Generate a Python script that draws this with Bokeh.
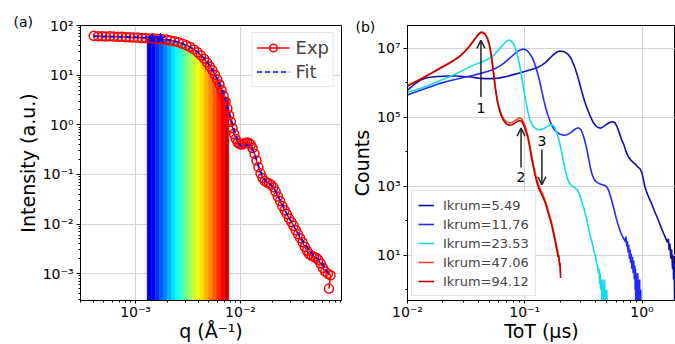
from bokeh.plotting import figure
from bokeh.layouts import row
from bokeh.models import (Range1d, LogTicker, FixedTicker, CustomJSTickFormatter,
                          Arrow, OpenHead, ColumnDataSource)
from bokeh.core.properties import value
from bokeh.embed import file_html
from bokeh.resources import INLINE

FONT = "DejaVu Sans"

# ---------------- Panel (a) data ----------------
q_exp = [4.0e-4, 4.4e-4, 4.8e-4, 5.2e-4, 5.7e-4, 6.2e-4, 6.8e-4, 7.4e-4, 8.1e-4, 8.8e-4,
         9.6e-4, 1.05e-3, 1.15e-3, 1.25e-3, 1.37e-3, 1.5e-3, 1.64e-3, 1.8e-3, 1.97e-3, 2.15e-3,
         2.35e-3, 2.57e-3, 2.8e-3, 3.05e-3, 3.32e-3, 3.6e-3, 3.9e-3, 4.2e-3, 4.5e-3, 4.8e-3,
         5.1e-3, 5.4e-3, 5.7e-3, 6.0e-3, 6.3e-3, 6.6e-3, 6.9e-3, 7.2e-3, 7.5e-3, 7.8e-3,
         8.1e-3, 8.4e-3, 8.7e-3, 9.0e-3, 9.4e-3, 9.8e-3, 1.02e-2, 1.06e-2, 1.1e-2, 1.15e-2,
         1.2e-2, 1.25e-2, 1.3e-2, 1.36e-2, 1.42e-2, 1.48e-2, 1.55e-2, 1.62e-2, 1.7e-2, 1.78e-2,
         1.87e-2, 1.96e-2, 2.06e-2, 2.16e-2, 2.27e-2, 2.38e-2, 2.5e-2, 2.63e-2, 2.76e-2, 2.9e-2,
         3.05e-2, 3.2e-2, 3.36e-2, 3.53e-2, 3.7e-2, 3.9e-2, 4.1e-2, 4.3e-2, 4.5e-2, 4.75e-2,
         5.0e-2, 5.25e-2, 5.5e-2, 5.8e-2, 6.1e-2, 6.4e-2, 6.8e-2, 7.2e-2, 6.95e-2]
I_exp = [62, 61, 61, 60, 61, 60, 59, 59, 58, 58,
         57, 57, 56, 56, 55, 55, 54, 53, 52, 50,
         48, 46, 43, 40, 37, 33, 29, 25, 21.5, 18,
         15, 12.5, 10.2, 8.2, 6.5, 5.0, 3.8, 2.9, 2.1, 1.55,
         1.15, 0.85, 0.65, 0.52, 0.44, 0.41, 0.40, 0.41, 0.43, 0.44,
         0.43, 0.40, 0.34, 0.26, 0.19, 0.14, 0.105, 0.085, 0.074, 0.069,
         0.066, 0.062, 0.055, 0.045, 0.036, 0.029, 0.023, 0.019, 0.016, 0.013,
         0.011, 0.0092, 0.0075, 0.0062, 0.0052, 0.0043, 0.0035, 0.0029, 0.0025, 0.0023,
         0.0022, 0.0021, 0.0019, 0.0016, 0.0013, 0.0011, 0.0010, 0.00093, 0.0005]

q_fit = [4.0e-4, 6.0e-4, 8.0e-4, 1.0e-3, 1.3e-3, 1.6e-3, 2.0e-3, 2.4e-3, 2.8e-3, 3.2e-3,
         3.6e-3, 4.0e-3, 4.5e-3, 5.0e-3, 5.5e-3, 6.0e-3, 6.5e-3, 7.0e-3, 7.5e-3, 8.0e-3,
         8.5e-3, 9.0e-3, 9.5e-3, 1.0e-2, 1.05e-2, 1.1e-2, 1.18e-2, 1.25e-2, 1.33e-2, 1.42e-2,
         1.52e-2, 1.62e-2, 1.75e-2, 1.9e-2, 2.05e-2, 2.2e-2, 2.4e-2, 2.6e-2, 2.85e-2, 3.1e-2,
         3.4e-2, 3.7e-2, 4.0e-2, 4.4e-2, 4.8e-2, 5.3e-2, 5.8e-2, 6.4e-2, 7.1e-2]
I_fit = [60, 59.5, 59, 58, 57, 55, 52, 48, 43, 38,
         33, 28, 22, 16.5, 12, 8.4, 5.7, 3.7, 2.4, 1.5,
         0.95, 0.62, 0.45, 0.38, 0.37, 0.38, 0.39, 0.36, 0.29, 0.2,
         0.13, 0.092, 0.072, 0.064, 0.055, 0.043, 0.03, 0.021, 0.014, 0.0105,
         0.0075, 0.0056, 0.0043, 0.0032, 0.0025, 0.0021, 0.0018, 0.0013, 0.0009]

q_star = [1.44e-3, 1.73e-3]
I_star = [55, 55]

q_dot = [1.6e-3, 2.1e-3, 2.68e-3, 3.3e-3, 3.87e-3, 4.6e-3, 5.36e-3, 6.0e-3, 6.45e-3, 7.2e-3]
I_dot = [50, 46, 40, 33, 27, 20, 14.7, 9.5, 5.8, 2.7]

band_edges = [1.29e-3, 1.41e-3, 1.54e-3, 1.69e-3, 1.85e-3, 2.02e-3, 2.21e-3, 2.41e-3, 2.64e-3,
              2.89e-3, 3.16e-3, 3.45e-3, 3.78e-3, 4.13e-3, 4.52e-3, 4.94e-3, 5.40e-3, 5.91e-3,
              6.46e-3, 7.07e-3, 7.74e-3]
band_top = [55, 54, 54, 53, 52, 50, 48, 46, 43, 40, 37, 33, 28, 23, 18.5, 14, 10.5, 7.5, 5.0, 3.4]
band_floor = 1e-5

# ---------------- Panel (b) data ----------------
labels_b = ["Ikrum=5.49", "Ikrum=11.76", "Ikrum=23.53", "Ikrum=47.06", "Ikrum=94.12"]

t_549 = [0.010, 0.0115, 0.013, 0.015, 0.018, 0.022, 0.026, 0.030, 0.035, 0.040, 0.046, 0.052,
         0.060, 0.070, 0.080, 0.090, 0.100, 0.110, 0.120, 0.130, 0.140, 0.150, 0.160, 0.170,
         0.180, 0.190, 0.200, 0.210, 0.220, 0.235, 0.250, 0.265, 0.280, 0.295, 0.310, 0.325,
         0.340, 0.360, 0.380, 0.400, 0.420, 0.445, 0.470, 0.500, 0.530, 0.560, 0.585, 0.610,
         0.640, 0.670, 0.700, 0.730, 0.760, 0.800, 0.840, 0.880, 0.920, 0.960, 1.00, 1.03,
         1.06, 1.10, 1.15, 1.20, 1.27, 1.34, 1.40, 1.46, 1.52, 1.58, 1.64, 1.68, 1.70, 1.73,
         1.76, 1.79, 1.82, 1.84, 1.86, 1.88, 1.90, 1.92, 1.95, 2.0]
c_549 = [6.0e5, 9.0e5, 1.2e6, 1.4e6, 1.5e6, 1.55e6, 1.55e6, 1.5e6, 1.45e6, 1.35e6, 1.3e6, 1.3e6,
         1.35e6, 1.5e6, 1.7e6, 1.9e6, 2.1e6, 2.3e6, 2.5e6, 2.8e6, 3.2e6, 3.8e6, 4.7e6, 5.8e6,
         6.9e6, 7.8e6, 8.2e6, 8.1e6, 7.6e6, 6.5e6, 4.8e6, 3.0e6, 1.7e6, 9.0e5, 4.8e5, 2.8e5,
         1.8e5, 1.1e5, 7.5e4, 5.8e4, 5.0e4, 4.8e4, 5.3e4, 6.2e4, 7.0e4, 7.4e4, 7.0e4, 5.5e4,
         3.5e4, 2.2e4, 1.6e4, 1.0e4, 7.4e3, 5.8e3, 4.9e3, 4.3e3, 3.6e3, 3.2e3, 2.4e3, 1.5e3,
         9.5e2, 6.5e2, 4.5e2, 3.3e2, 2.0e2, 1.3e2, 90, 62, 45, 33, 24, 30, 14, 22,
         8, 15, 4, 10, 2, 6, 0.3, 3, 0.3, 2]

t_1176 = [0.010, 0.012, 0.014, 0.016, 0.019, 0.022, 0.026, 0.030, 0.036, 0.042, 0.048, 0.054,
          0.060, 0.066, 0.072, 0.078, 0.084, 0.090, 0.096, 0.100, 0.105, 0.110, 0.116, 0.122,
          0.128, 0.134, 0.140, 0.146, 0.152, 0.158, 0.166, 0.175, 0.185, 0.200, 0.215, 0.230,
          0.245, 0.260, 0.275, 0.288, 0.300, 0.312, 0.325, 0.338, 0.350, 0.362, 0.375, 0.390,
          0.405, 0.42, 0.44, 0.46, 0.48, 0.50, 0.52, 0.54, 0.56, 0.58, 0.60, 0.62, 0.64, 0.66,
          0.68, 0.70, 0.72, 0.73, 0.74, 0.75, 0.76, 0.77, 0.78, 0.79, 0.80, 0.81, 0.82, 0.83,
          0.84, 0.85, 0.86, 0.87, 0.875, 0.88, 0.885, 0.89, 0.895, 0.90, 0.905, 0.91, 0.915,
          0.92, 0.925, 0.93, 0.935, 0.94, 0.945, 0.95, 0.955, 0.96, 0.965, 0.97, 0.975, 0.98]
c_1176 = [4.4e5, 5.5e5, 6.6e5, 7.7e5, 9.5e5, 1.1e6, 1.25e6, 1.4e6, 1.6e6, 1.85e6, 2.1e6, 2.4e6,
          2.9e6, 3.6e6, 4.6e6, 5.9e6, 7.4e6, 8.6e6, 9.3e6, 9.2e6, 8.4e6, 7.0e6, 5.2e6, 3.4e6,
          2.0e6, 1.1e6, 5.5e5, 2.9e5, 1.7e5, 1.1e5, 7.0e4, 4.8e4, 3.8e4, 3.2e4, 3.0e4, 3.1e4,
          3.5e4, 4.1e4, 4.7e4, 4.9e4, 4.4e4, 3.3e4, 2.1e4, 1.2e4, 6.5e3, 3.6e3, 2.2e3, 1.6e3,
          1.35e3, 1.25e3, 1.15e3, 1.1e3, 1.05e3, 9.5e2, 7.5e2, 5.0e2, 3.2e2, 2.0e2, 1.25e2, 85, 60, 45,
          36, 30, 25, 35, 18, 26, 12, 20, 8, 15, 6, 11, 4, 9,
          3, 7, 2, 5, 1, 4, 0.3, 3, 1, 0.3, 2, 1, 0.3,
          3, 0.3, 1, 2, 0.3, 1, 0.3, 2, 0.3, 1, 0.3, 1, 0.3]

t_2353 = [0.010, 0.012, 0.014, 0.016, 0.019, 0.022, 0.026, 0.030, 0.035, 0.040, 0.045, 0.050,
          0.055, 0.060, 0.065, 0.070, 0.074, 0.078, 0.082, 0.086, 0.090, 0.094, 0.098, 0.102,
          0.106, 0.110, 0.115, 0.120, 0.128, 0.136, 0.145, 0.155, 0.165, 0.172, 0.180, 0.188,
          0.196, 0.205, 0.213, 0.222, 0.232, 0.242, 0.255, 0.268, 0.280, 0.292, 0.305, 0.318,
          0.330, 0.342, 0.355, 0.368, 0.380, 0.392, 0.402, 0.410, 0.418, 0.425, 0.430, 0.435,
          0.440, 0.445, 0.450, 0.455, 0.460, 0.465, 0.470, 0.475, 0.480, 0.485, 0.490, 0.495,
          0.500, 0.505]
c_2353 = [5.2e5, 6.3e5, 7.5e5, 9.0e5, 1.15e6, 1.4e6, 1.8e6, 2.3e6, 3.0e6, 3.6e6, 4.2e6, 5.0e6,
          6.5e6, 9.0e6, 1.25e7, 1.6e7, 1.7e7, 1.55e7, 1.15e7, 7.0e6, 3.5e6, 1.5e6, 6.5e5, 2.9e5,
          1.5e5, 9.0e4, 6.2e4, 5.0e4, 4.4e4, 4.3e4, 4.6e4, 5.3e4, 5.9e4, 6.0e4, 5.2e4, 3.5e4,
          2.1e4, 1.1e4, 5.5e3, 2.8e3, 1.6e3, 1.2e3, 1.0e3, 9.0e2, 8.0e2, 6.0e2, 3.8e2, 2.4e2,
          1.5e2, 90, 50, 30, 19, 12, 9, 6, 5, 3, 4, 1.5,
          3, 1, 2, 0.3, 2, 1, 0.3, 1, 2, 0.3, 1, 0.3,
          1, 0.3]

t_4706 = [0.010, 0.012, 0.014, 0.016, 0.019, 0.022, 0.025, 0.028, 0.031, 0.034, 0.037, 0.040,
          0.042, 0.044, 0.046, 0.048, 0.050, 0.052, 0.054, 0.056, 0.058, 0.060, 0.063, 0.066,
          0.070, 0.074, 0.078, 0.082, 0.086, 0.090, 0.094, 0.098, 0.102, 0.106, 0.110, 0.114,
          0.118, 0.122, 0.126, 0.132, 0.138, 0.144, 0.150, 0.156, 0.162, 0.168, 0.174, 0.180,
          0.186, 0.190, 0.194, 0.197, 0.200, 0.202]
c_4706 = [8.2e5, 1.12e6, 1.48e6, 1.9e6, 2.65e6, 3.5e6, 4.5e6, 6.0e6, 8.2e6, 1.18e7, 1.75e7, 2.45e7,
          2.85e7, 2.85e7, 2.55e7, 1.95e7, 1.25e7, 6.0e6, 2.2e6, 8.0e5, 3.6e5, 2.1e5, 1.25e5, 9.0e4,
          7.2e4, 6.8e4, 7.0e4, 7.8e4, 8.7e4, 9.4e4, 9.0e4, 7.0e4, 4.8e4, 3.1e4, 1.7e4, 8.5e3,
          4.6e3, 2.7e3, 1.7e3, 1.05e3, 7.4e2, 5.4e2, 3.8e2, 2.4e2, 1.5e2, 1.0e2, 60, 36,
          20, 15, 10, 7, 5, 3]

t_9412 = [0.010, 0.012, 0.014, 0.016, 0.019, 0.022, 0.025, 0.028, 0.031, 0.034, 0.037, 0.040,
          0.042, 0.044, 0.046, 0.048, 0.050, 0.052, 0.054, 0.056, 0.058, 0.060, 0.063, 0.066,
          0.070, 0.074, 0.078, 0.082, 0.086, 0.090, 0.094, 0.098, 0.102, 0.106, 0.110, 0.114,
          0.118, 0.122, 0.126, 0.132, 0.138, 0.144, 0.150, 0.156, 0.162, 0.168, 0.174, 0.180,
          0.186, 0.188, 0.192, 0.195, 0.198, 0.200, 0.202]
c_9412 = [8.0e5, 1.1e6, 1.45e6, 1.85e6, 2.6e6, 3.4e6, 4.4e6, 5.8e6, 8.0e6, 1.15e7, 1.7e7, 2.4e7,
          2.8e7, 2.8e7, 2.5e7, 1.9e7, 1.2e7, 5.5e6, 2.0e6, 7.0e5, 3.2e5, 1.9e5, 1.1e5, 8.0e4,
          6.2e4, 5.8e4, 6.0e4, 6.6e4, 7.4e4, 8.0e4, 7.6e4, 5.8e4, 4.0e4, 2.6e4, 1.4e4, 7.0e3,
          3.8e3, 2.2e3, 1.4e3, 8.5e2, 6.2e2, 4.5e2, 3.2e2, 2.0e2, 1.3e2, 85, 50, 30,
          16, 14, 9, 10, 5, 6, 2.2]

arrow_t = [0.0423, 0.093, 0.140]
arrow_tail = [3.8e5, 3.5e3, 1.15e4]
arrow_head = [1.66e7, 4.8e4, 1.1e3]
arrow_text = ["1", "2", "3"]
arrow_text_y = [1.9e5, 1.85e3, 2.1e4]

# ---------------- styling helpers ----------------
SUP = CustomJSTickFormatter(code="""
const e = Math.round(Math.log10(tick));
const m = {"-":"⁻","0":"⁰","1":"¹","2":"²","3":"³","4":"⁴","5":"⁵","6":"⁶","7":"⁷","8":"⁸","9":"⁹"};
return "10" + String(e).split("").map(c => m[c]).join("");
""")


def jet(v):
    def c(x):
        return max(0.0, min(1.0, x))
    r = c(1.5 - abs(4 * v - 3))
    g = c(1.5 - abs(4 * v - 2))
    b = c(1.5 - abs(4 * v - 1))
    return "#%02x%02x%02x" % (int(r * 255), int(g * 255), int(b * 255))


def style(p, xlabel_standoff):
    p.outline_line_color = "black"
    p.outline_line_width = 1
    p.background_fill_color = "white"
    p.border_fill_color = "white"
    for ax in (p.xaxis[0], p.yaxis[0]):
        ax.axis_line_color = "black"
        ax.major_tick_line_color = "black"
        ax.minor_tick_line_color = "black"
        ax.major_tick_in = 0
        ax.major_tick_out = 4
        ax.minor_tick_in = 0
        ax.minor_tick_out = 2
        ax.major_label_text_font = FONT
        ax.major_label_text_font_size = "14px"
        ax.major_label_text_color = "black"
        ax.axis_label_text_font = FONT
        ax.axis_label_text_font_size = "19px"
        ax.axis_label_text_font_style = "normal"
        ax.axis_label_text_color = "black"
        ax.formatter = SUP
    p.xaxis[0].major_tick_out = 3
    p.xaxis[0].major_label_standoff = 0
    p.yaxis[0].major_label_standoff = 3
    p.xaxis[0].axis_label_standoff = xlabel_standoff
    p.yaxis[0].axis_label_standoff = 1
    p.grid.grid_line_color = "#d4d4d4"
    p.grid.grid_line_width = 1
    p.title.text_font = FONT
    p.title.text_font_size = "14px"
    p.title.text_font_style = "normal"
    p.title.text_color = "black"
    p.title.align = "left"
    p.title.vertical_align = "bottom"


# ---------------- Panel (a) ----------------
p1 = figure(width=348, height=344, x_axis_type="log", y_axis_type="log",
            x_range=Range1d(2.99e-4, 0.0916), y_range=Range1d(2.88e-4, 100),
            output_backend="svg", toolbar_location=None, title="(a)",
            min_border_left=80, min_border_right=7, min_border_top=25, min_border_bottom=42)
style(p1, -3)
p1.title.offset = -67
p1.title.standoff = -8
p1.xaxis.ticker = LogTicker(desired_num_ticks=3, num_minor_ticks=10)
p1.yaxis.ticker = LogTicker(desired_num_ticks=7, num_minor_ticks=10)
p1.xaxis.axis_label = "q (Å⁻¹)"
p1.yaxis.axis_label = "Intensity (a.u.)"

nb = len(band_top)
band_src = ColumnDataSource(dict(
    left=band_edges[:-1], right=band_edges[1:], top=band_top,
    bottom=[band_floor] * nb,
    color=[jet(0.08 + 0.84 * i / (nb - 1)) for i in range(nb)]))
p1.quad(left="left", right="right", top="top", bottom="bottom", source=band_src,
        fill_color="color", line_color="color", line_width=0.5)
p1.line(q_dot, I_dot, line_color="#e00000", line_width=2, line_dash="1 3")
p1.line(q_exp, I_exp, line_color="red", line_width=1.5, legend_label="Exp")
p1.scatter(q_exp, I_exp, marker="circle", size=9, line_color="red", fill_color=None,
           line_width=1.5, legend_label="Exp")
p1.line(q_fit, I_fit, line_color="blue", line_width=1.6, line_dash="5 3", legend_label="Fit")
p1.scatter(q_star, I_star, marker="star", size=10, line_color="blue", fill_color="blue")

lg = p1.legend[0]
lg.location = "top_right"
lg.margin = 7
lg.padding = 4
lg.spacing = 3
lg.glyph_width = 33
lg.glyph_height = 19
lg.label_height = 19
lg.label_standoff = 6
lg.label_text_font = FONT
lg.label_text_font_size = "18px"
lg.border_line_color = "#cccccc"
lg.background_fill_alpha = 0.85

# ---------------- Panel (b) ----------------
# frames of the row share their top edge, so the range top is set to keep the decade positions
p2 = figure(width=327, height=344, x_axis_type="log", y_axis_type="log",
            x_range=Range1d(0.01, 1.93), y_range=Range1d(0.49, 4.5e7),
            output_backend="svg", toolbar_location=None, title="(b)",
            min_border_left=59, min_border_right=0, min_border_top=25, min_border_bottom=42)
style(p2, -3)
p2.title.offset = -52
p2.title.standoff = -18
p2.xaxis.ticker = LogTicker(desired_num_ticks=3, num_minor_ticks=10)
p2.yaxis.ticker = FixedTicker(ticks=[1e1, 1e3, 1e5, 1e7], minor_ticks=[1e0, 1e2, 1e4, 1e6])
p2.xaxis.axis_label = "ToT (μs)"
p2.yaxis.axis_label = "Counts"

colors_b = ["#1010b0", "#1f2dff", "#12dcf2", "#ff4f1f", "#c00000"]
series_b = [(t_549, c_549), (t_1176, c_1176), (t_2353, c_2353), (t_4706, c_4706), (t_9412, c_9412)]
for (tt, cc), col, lab in zip(series_b, colors_b, labels_b):
    p2.line(tt, cc, line_color=col, line_width=1.6, legend_label=lab)

for xa, ya, yb in zip(arrow_t, arrow_tail, arrow_head):
    p2.add_layout(Arrow(end=OpenHead(size=8, line_width=1.5, line_color="#222222"),
                        x_start=xa, y_start=ya, x_end=xa, y_end=yb,
                        line_width=1.5, line_color="#222222"))
p2.text(x=arrow_t, y=arrow_text_y, text=arrow_text, text_align="center", text_baseline="middle",
        text_font=value(FONT), text_font_size="14px", text_color="black")

lg2 = p2.legend[0]
lg2.location = "bottom_left"
lg2.margin = 4
lg2.padding = 6
lg2.spacing = 3
lg2.glyph_width = 16
lg2.glyph_height = 16
lg2.label_height = 16
lg2.label_standoff = 9
lg2.label_text_font = FONT
lg2.label_text_font_size = "13px"
lg2.border_line_color = "#cccccc"
lg2.background_fill_alpha = 0.85

layout = row(p1, p2)
open("out.html", "w").write(file_html(layout, INLINE))
